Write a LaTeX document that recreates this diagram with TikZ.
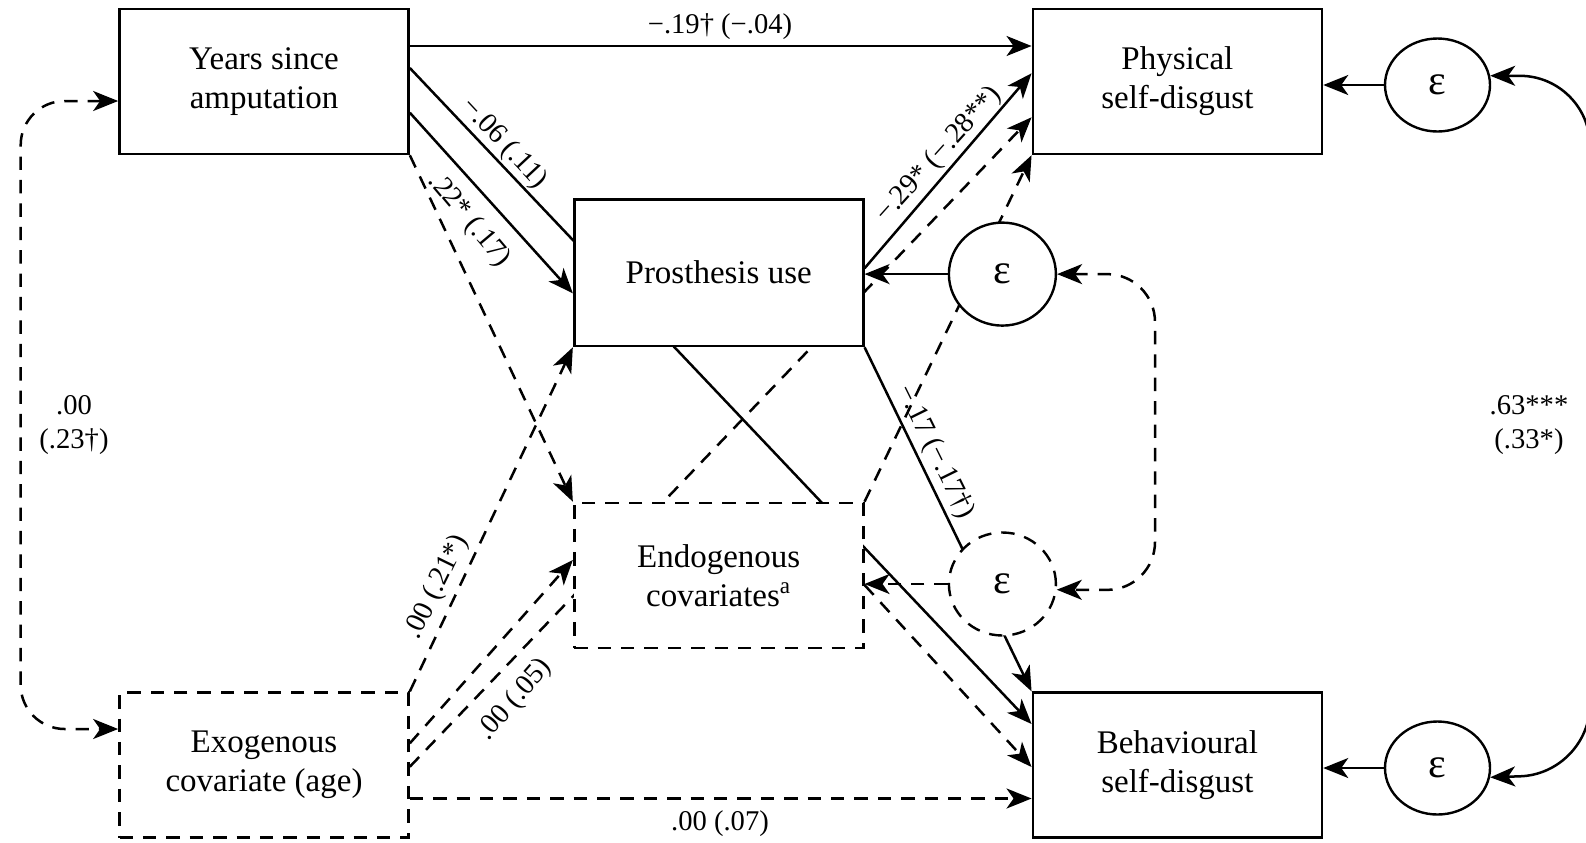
\documentclass[tikz,border=0pt]{standalone}
\usepackage{fontspec}
\setmainfont{Liberation Serif}
\usetikzlibrary{arrows.meta,shapes.geometric}
\pgfdeclarelayer{back}
\pgfdeclarelayer{bg}
\pgfsetlayers{back,bg,main}
\begin{document}
\begin{tikzpicture}[x=0.5pt,y=-0.5pt,
  box/.style={draw, line width=1.35pt, fill=white, minimum width=144.5pt, minimum height=72.5pt,
    inner sep=0pt, align=center, font=\fontsize{16.5}{19.5}\selectfont},
  dsh/.style={dash pattern=on 6.7pt off 5pt},
  dbox/.style={box, dsh},
  err/.style={draw, ellipse, line width=1.2pt, fill=white, minimum width=52.5pt, minimum height=46.5pt,
    inner sep=0pt, font=\fontsize{21}{21}\selectfont},
  bigerr/.style={err, minimum width=53.5pt, minimum height=51.5pt},
  ln/.style={line width=1.25pt},
  tip/.style={-{Stealth[length=12.5pt,width=10pt,inset=3.5pt]}},
  twotip/.style={{Stealth[length=12.5pt,width=10pt,inset=3.5pt]}-{Stealth[length=12.5pt,width=10pt,inset=3.5pt]}},
  lab/.style={inner sep=0pt, align=center, font=\fontsize{14.3}{16.8}\selectfont}
]
\useasboundingbox (0,0) rectangle (1586,842);
\begin{pgfonlayer}{back}
  \fill[white] (0,0) rectangle (1586,842);
\end{pgfonlayer}

% boxes
\node[box] (years) at (264,81.4) {Years since\\amputation};
\node[box] (phys) at (1177.4,81.4) {Physical\\self-disgust};
\node[box, minimum height=73.3pt] (pros) at (718.7,272.6) {Prosthesis use};
\node[dbox] (endo) at (718.7,575.5) {Endogenous\\covariates\textsuperscript{a}};
\node[dbox] (exo) at (264,765.2) {Exogenous\\covariate (age)};
\node[box] (behav) at (1177.4,765.2) {Behavioural\\self-disgust};

% error terms
\node[err] (perr) at (1437.5,85) {ε};
\node[err] (berr) at (1437.5,768) {ε};
\node[bigerr] (prerr) at (1002.4,274.1) {ε};
\node[bigerr, dsh] (enerr) at (1002.4,584) {ε};

\begin{pgfonlayer}{bg}
  % paths from Years since amputation
  \draw[ln,tip] (years.east |- 0,46) -- (phys.west |- 0,46);
  \draw[ln,tip] (years.east |- 0,68) -- (behav.west |- 0,724);
  \draw[ln,tip] (years.east |- 0,112.7) -- (pros.west |- 0,293.3);
  \draw[ln,dsh,tip] (years.south east) -- (endo.north west);
  % paths from Prosthesis use
  \draw[ln,tip] (pros.east |- 0,268.3) -- (phys.west |- 0,73.3);
  \draw[ln,tip] (pros.south east) -- (behav.north west);
  % paths from Exogenous covariate
  \draw[ln,dsh,tip] (exo.north east) -- (pros.south west);
  \draw[ln,dsh,tip] (exo.east |- 0,743.3) -- (endo.west |- 0,560);
  \draw[ln,dsh,tip] (exo.east |- 0,766.7) -- (phys.west |- 0,117.3);
  \draw[ln,dsh,tip] (exo.east |- 0,798.5) -- (behav.west |- 0,798.5);
  % paths from Endogenous covariates
  \draw[ln,dsh,tip] (endo.north east) -- (phys.south west);
  \draw[ln,dsh,tip] (endo.east |- 0,585) -- (behav.west |- 0,767);
  % error terms
  \draw[ln,tip] (perr.west) -- (phys.east |- perr.west);
  \draw[ln,tip] (berr.west) -- (behav.east |- berr.west);
  \draw[ln,tip] (prerr.west) -- (pros.east |- prerr.west);
  \draw[ln,dsh,tip] (enerr.west) -- (endo.east |- enerr.west);
  % covariances
  \draw[ln,dsh,twotip,rounded corners=22pt] (years.west |- 0,101) -- (20.7,101) -- (20.7,729) -- (exo.west |- 0,729);
  \draw[ln,dsh,twotip,rounded corners=24pt] (prerr.east) -- (1155,274.1) -- (1155,590) -- (enerr.-6);
\end{pgfonlayer}

\begin{scope}
  \clip (0,0) rectangle (1586,842);
  \draw[ln,twotip,rounded corners=35pt] (perr.10) -- (1590,76) -- (1590,774) -- (berr.-10);
\end{scope}

% labels
\node[lab] (l1) at (720,27) {−.19† (−.04)};
\node[lab, rotate=-47] (l2) at (504,144) {−.06 (.11)};
\node[lab, rotate=-50] (l3) at (469,220) {.22* (.17)};
\node[lab, rotate=48] (l4) at (939,155) {−.29* (−.28**)};
\node[lab, rotate=-63.7] (l5) at (935,452) {−.17 (−.17†)};
\node[lab, rotate=64] (l6) at (437,587) {.00 (.21*)};
\node[lab, rotate=49] (l7) at (515,700) {.00 (.05)};
\node[lab] (l8) at (720,824) {.00 (.07)};
\node[lab] (l9) at (74,425) {.00\\(.23†)};
\node[lab] (l10) at (1529,425) {.63***\\(.33*)};
\end{tikzpicture}
\end{document}
